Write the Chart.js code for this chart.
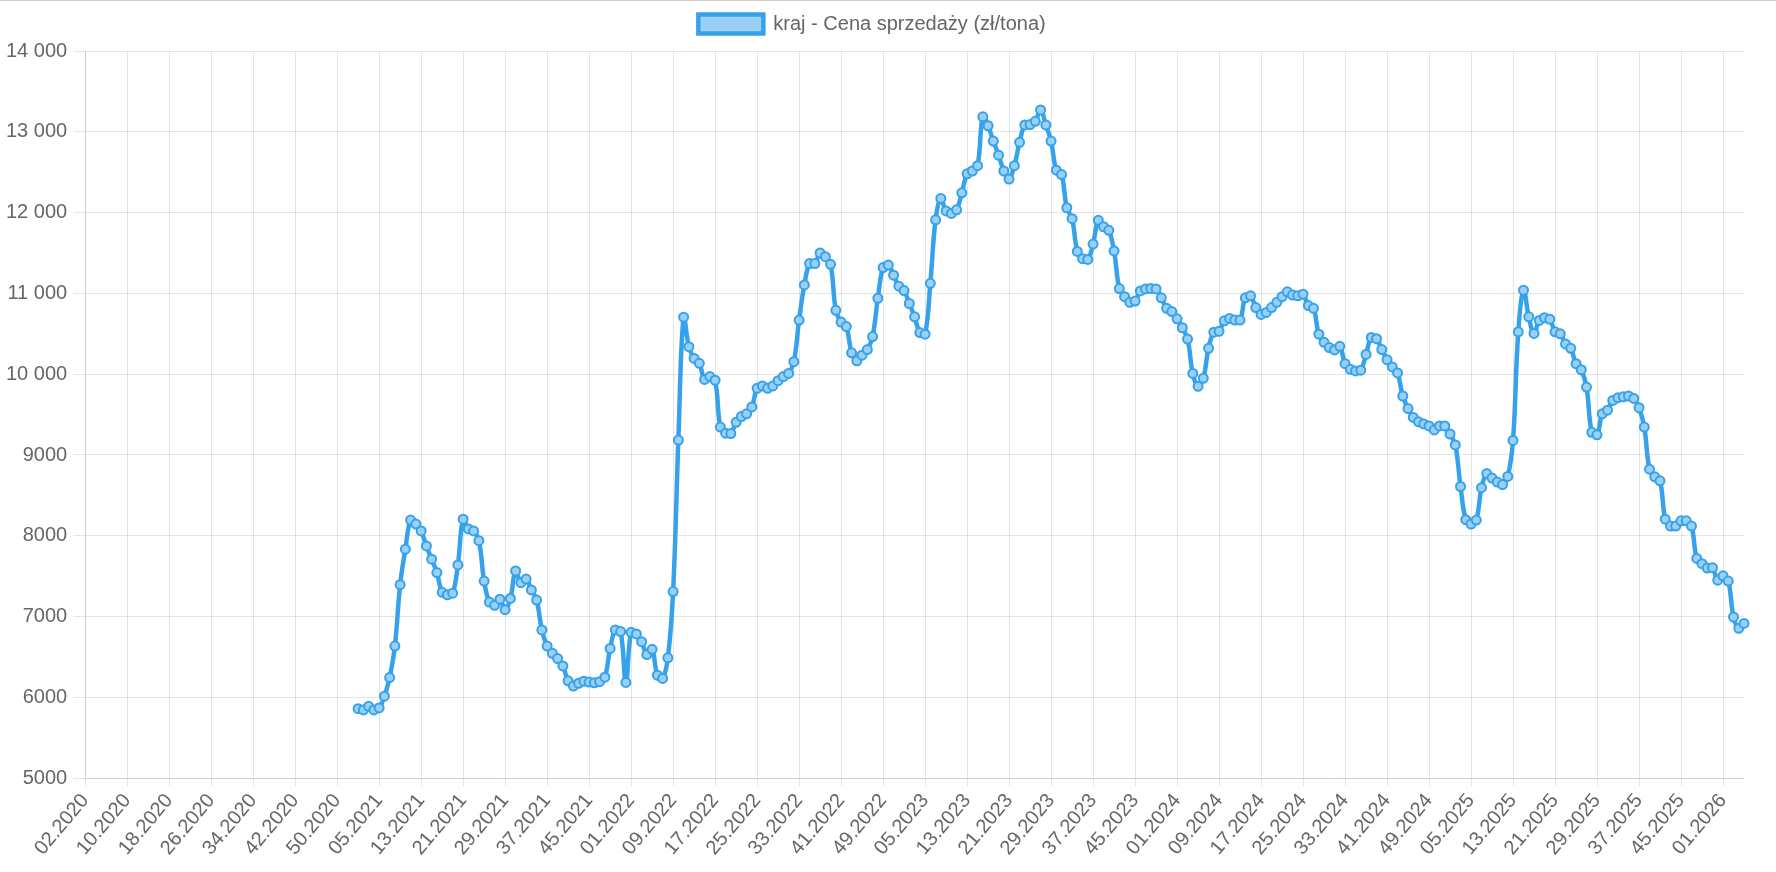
<!DOCTYPE html>
<html lang="pl">
<head>
<meta charset="utf-8">
<title>kraj - Cena sprzedaży</title>
<script src="https://cdn.jsdelivr.net/npm/chart.js@4/dist/chart.umd.min.js"></script>
<style>
  html, body { margin: 0; padding: 0; background: #fff; }
  #wrap { position: relative; width: 1776px; height: 871px; border-top: 1px solid #d0d0d0; }
</style>
</head>
<body>
<div id="wrap"><canvas id="priceChart"></canvas></div>
<script>
// ---- data ----
// axis runs weekly from 02.2020, 2020 has 53 ISO weeks
const years = [2020, 2021, 2022, 2023, 2024, 2025, 2026];
const firstWeekOfYear = [2, 1, 1, 1, 1, 1, 1];
const lastWeekOfYear = [53, 52, 52, 52, 52, 52, 5];
const firstPriceWeek = '01.2021';
const labelEvery = 8;

const seriesLabel = 'kraj - Cena sprzedaży (zł/tona)';

// zł/tona, one value per week from 01.2021
const prices = [
  5860, 5845, 5890, 5845, 5870, 6015, 6245, 6635, 7395, 7835,
  8195, 8145, 8060, 7875, 7710, 7545, 7300, 7270, 7290, 7640,
  8205, 8085, 8060, 7940, 7440, 7180, 7140, 7215, 7085, 7225,
  7565, 7420, 7465, 7330, 7205, 6835, 6635, 6545, 6480, 6390,
  6205, 6140, 6175, 6200, 6190, 6180, 6195, 6250, 6605, 6835,
  6815, 6185, 6805, 6785, 6690, 6530, 6595, 6275, 6235, 6490,
  7310, 9185, 10705, 10340, 10195, 10135, 9935, 9970, 9925, 9345,
  9270, 9265, 9405, 9475, 9510, 9595, 9825, 9855, 9825, 9855,
  9920, 9970, 10010, 10155, 10670, 11105, 11370, 11370, 11500, 11455,
  11360, 10790, 10645, 10590, 10265, 10165, 10235, 10305, 10465, 10940,
  11320, 11350, 11225, 11090, 11035, 10875, 10710, 10515, 10495, 11125,
  11910, 12175, 12020, 11990, 12035, 12245, 12480, 12515, 12580, 13185,
  13075, 12885, 12710, 12515, 12415, 12580, 12870, 13085, 13090, 13130,
  13270, 13085, 12885, 12525, 12470, 12060, 11925, 11520, 11430, 11420,
  11610, 11905, 11825, 11780, 11525, 11060, 10960, 10890, 10905, 11030,
  11055, 11060, 11055, 10945, 10815, 10775, 10685, 10575, 10435, 10010,
  9850, 9950, 10320, 10520, 10530, 10660, 10690, 10670, 10670, 10945,
  10970, 10825, 10740, 10765, 10825, 10890, 10960, 11020, 10980, 10970,
  10990, 10850, 10815, 10495, 10395, 10330, 10300, 10345, 10130, 10060,
  10040, 10050, 10245, 10455, 10440, 10305, 10180, 10090, 10015, 9730,
  9575, 9465, 9410, 9385, 9360, 9310, 9360, 9360, 9260, 9125,
  8610, 8200, 8145, 8195, 8595, 8770, 8715, 8665, 8635, 8735,
  9180, 10525, 11040, 10710, 10505, 10665, 10700, 10680, 10525, 10500,
  10375, 10320, 10130, 10055, 9840, 9280, 9250, 9510, 9555, 9675,
  9710, 9720, 9730, 9700, 9585, 9345, 8825, 8730, 8680, 8205,
  8120, 8120, 8185, 8185, 8120, 7720, 7655, 7600, 7605, 7450,
  7505, 7440, 6995, 6855, 6915
];

const yMin = 5000;
const yMax = 14000;
const yStep = 1000;

// ---- build labels / dataset ----
const weekLabels = [];
years.forEach((y, i) => {
  for (let w = firstWeekOfYear[i]; w <= lastWeekOfYear[i]; w++) {
    weekLabels.push(String(w).padStart(2, '0') + '.' + y);
  }
});

const offset = weekLabels.indexOf(firstPriceWeek);
const priceData = weekLabels.map((_, i) => (i >= offset ? prices[i - offset] : null));

// 14 000 but 9000, like pl-PL
function formatPl(v) {
  const s = String(v);
  if (s.length <= 4) return s;
  return s.replace(/\B(?=(\d{3})+(?!\d))/g, ' ');
}

// a bit more room under the legend
const legendSpacer = {
  id: 'legendSpacer',
  beforeInit(chart) {
    const origFit = chart.legend.fit;
    chart.legend.fit = function () {
      origFit.call(this);
      this.height += 7;
    };
  }
};

const blue = 'rgb(54, 162, 235)';
const lightBlue = 'rgb(154, 208, 245)';

Chart.defaults.font.family = '"Liberation Sans", Arial, Helvetica, sans-serif';
Chart.defaults.font.size = 20;
Chart.defaults.color = '#666';

const ctx = document.getElementById('priceChart');
new Chart(ctx, {
  type: 'line',
  data: {
    labels: weekLabels,
    datasets: [{
      label: seriesLabel,
      data: priceData,
      borderColor: blue,
      backgroundColor: lightBlue,
      borderWidth: 4.5,
      pointRadius: 4.5,
      pointBorderWidth: 2,
      pointBackgroundColor: lightBlue,
      pointBorderColor: blue,
      tension: 0.4,
      fill: false
    }]
  },
  plugins: [legendSpacer],
  options: {
    responsive: true,
    maintainAspectRatio: false,
    animation: false,
    layout: {
      padding: { top: 3, right: 32, bottom: 9, left: 0 }
    },
    plugins: {
      legend: {
        display: true,
        position: 'top',
        labels: {
          boxWidth: 65,
          boxHeight: 19,
          font: { size: 20 }
        }
      },
      tooltip: { enabled: false }
    },
    scales: {
      x: {
        grid: { color: 'rgba(0,0,0,0.1)' },
        ticks: {
          autoSkip: false,
          maxRotation: 50,
          minRotation: 50,
          callback: function (val, index) {
            return index % labelEvery === 0 ? this.getLabelForValue(val) : null;
          }
        }
      },
      y: {
        min: yMin,
        max: yMax,
        grid: { color: 'rgba(0,0,0,0.1)', tickLength: 12 },
        ticks: {
          stepSize: yStep,
          padding: 6,
          callback: (v) => formatPl(v)
        }
      }
    }
  }
});
</script>
</body>
</html>
